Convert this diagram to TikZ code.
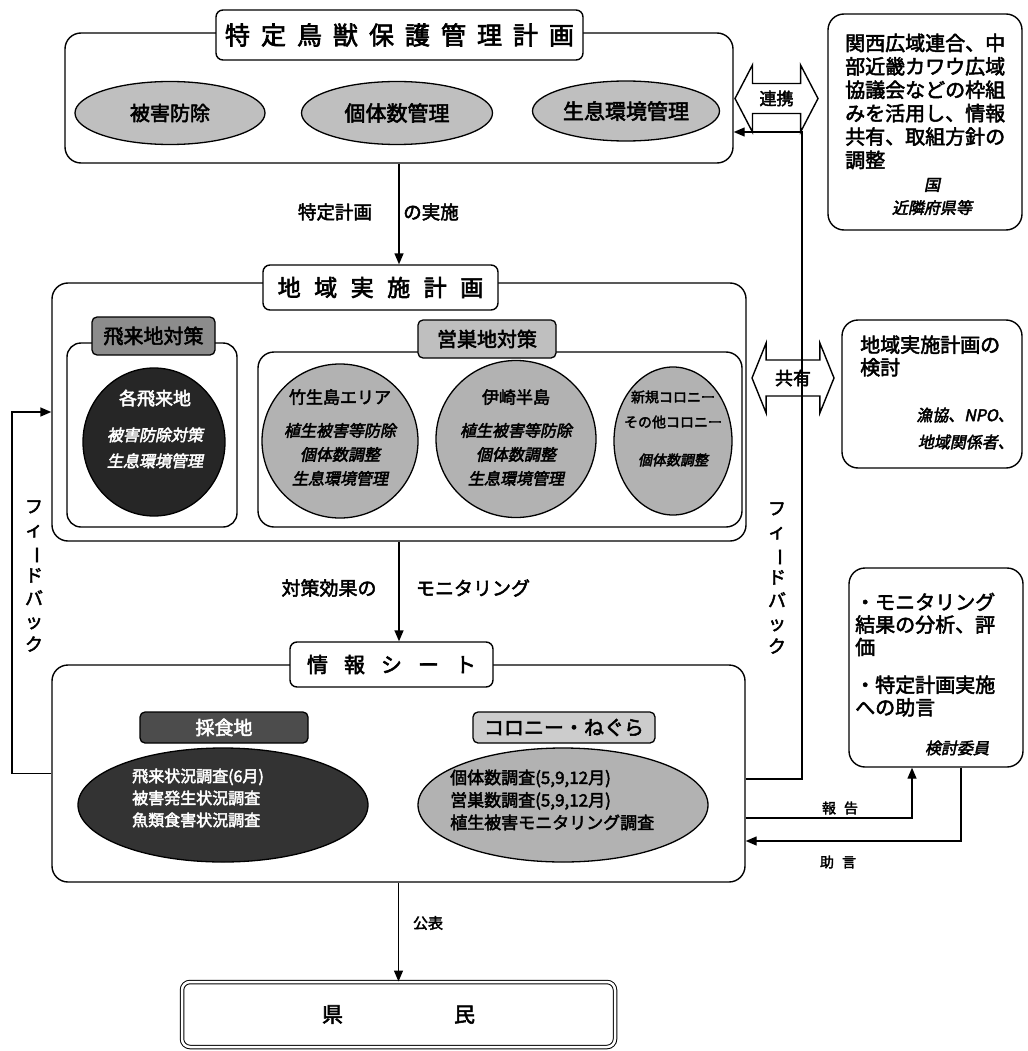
\documentclass[tikz,border=0pt]{standalone}
\usepackage{fontspec}
\usepackage{graphicx}
\setmainfont{Noto Sans CJK JP}
\newfontfamily\jpb[FakeBold=2.6]{Noto Sans CJK JP}
\newfontfamily\jpbi[FakeBold=2.8,FakeSlant=0.2]{Noto Sans CJK JP}
\usetikzlibrary{shapes.geometric,shapes.arrows,arrows.meta}
\newcommand\fsz[2]{\fontsize{#1}{#2}\selectfont}
\newcommand\vbar{\rotatebox[origin=c]{-90}{ー}}
\newcommand\gapA{\hspace{11pt}}
\newcommand\gapB{\hspace{13.5pt}}
\newcommand\gapC{\hspace{16pt}}
\begin{document}
\begin{tikzpicture}[x=1pt,y=-1pt,
  frame/.style={draw, line width=1.4pt, rounded corners=16pt, inner sep=0pt},
  tbox/.style={draw, fill=white, line width=1.4pt, rounded corners=7pt, inner sep=0pt},
  hdr/.style={draw, line width=1.3pt, rounded corners=5pt, inner sep=0pt},
  oval/.style={ellipse, draw, line width=1.3pt, inner sep=0pt},
  arr/.style={line width=1.4pt, -{Triangle[length=11pt,width=9pt]}},
  lbl/.style={inner sep=0pt},
  dbl/.style={double arrow, draw, line width=1.4pt},
  vtxt/.style={inner sep=0pt, align=center, font=\jpb\fsz{18}{23}},
]
\useasboundingbox (0,0) rectangle (1027,1051);

% ---------- top: plan ----------
\node[frame, minimum width=668pt, minimum height=130pt] (plan) at (399,98) {};
\node[tbox, minimum width=367pt, minimum height=50pt, font=\jpb\fsz{25}{25}] (plantitle) at (399.5,35)
  {特\gapA 定\gapA 鳥\gapA 獣\gapA 保\gapA 護\gapA 管\gapA 理\gapA 計\gapA 画};
\node[oval, fill=black!25, minimum width=190pt, minimum height=63pt, font=\jpb\fsz{20}{20}] (e1) at (170,113) {被害防除};
\node[oval, fill=black!25, minimum width=191pt, minimum height=63pt, font=\jpb\fsz{21}{21}] (e2) at (397,113) {個体数管理};
\node[oval, fill=black!25, minimum width=187pt, minimum height=60pt, font=\jpb\fsz{21}{21}] (e3) at (626,111) {生息環境管理};

% ---------- right top box ----------
\node[frame, minimum width=194pt, minimum height=216pt] (kansai) at (925,122) {};
\node[lbl, anchor=west, align=left, font=\jpb\fsz{20}{23.4}] (kansaitxt) at (845,101.5)
  {関西広域連合、中\\部近畿カワウ広域\\協議会などの枠組\\みを活用し、情報\\共有、取組方針の\\調整};
\node[lbl, align=center, font=\jpbi\fsz{16}{23}] (kuni) at (932,196.5) {国\\近隣府県等};

% ---------- middle: regional plan ----------
\node[frame, minimum width=694pt, minimum height=258pt] (mid) at (399,412) {};
\node[tbox, minimum width=235pt, minimum height=45pt, font=\jpb\fsz{23}{23}] (midtitle) at (380.5,287.5)
  {地\gapB 域\gapB 実\gapB 施\gapB 計\gapB 画};
\draw[arr] (plan.south) -- (plan.south |- midtitle.north);
\node[lbl, font=\jpb\fsz{18.5}{18.5}] (lab1) at (335,212) {特定計画};
\node[lbl, font=\jpb\fsz{18.5}{18.5}] (lab2) at (431,212) {の実施};

% left inner
\node[frame, rounded corners=14pt, minimum width=170pt, minimum height=184pt] (hirai) at (152,435) {};
\node[hdr, fill=black!45, minimum width=123pt, minimum height=38pt, font=\jpb\fsz{20}{20}] (hiraihdr) at (153.5,336) {飛来地対策};
\node[oval, fill=black!85, minimum width=142pt, minimum height=148pt] (hc) at (154,442) {};
\node[lbl, align=center, text=white, font=\jpbi\fsz{16}{26}] (hctxt) at (155,429)
  {{\jpb\fsz{18}{26}各飛来地}\\[10pt]被害防除対策\\生息環境管理};

% right inner
\node[frame, rounded corners=16pt, minimum width=484pt, minimum height=175pt] (eisou) at (500,439.5) {};
\node[hdr, fill=black!25, minimum width=138pt, minimum height=38pt, font=\jpb\fsz{20}{20}] (eisouhdr) at (487,339) {営巣地対策};
\node[oval, fill=black!30, minimum width=156pt, minimum height=154pt] (c1) at (340,441) {};
\node[lbl, align=center, font=\jpbi\fsz{16}{24}] (c1t) at (340,437.5)
  {{\jpb\fsz{17}{24}竹生島エリア}\\[9pt]植生被害等防除\\個体数調整\\生息環境管理};
\node[oval, fill=black!30, minimum width=160pt, minimum height=157pt] (c2) at (516,439) {};
\node[lbl, align=center, font=\jpbi\fsz{16}{24}] (c2t) at (516,437.5)
  {{\jpb\fsz{17}{24}伊崎半島}\\[9pt]植生被害等防除\\個体数調整\\生息環境管理};
\node[oval, fill=black!30, minimum width=118pt, minimum height=148pt] (c3) at (673,441) {};
\node[lbl, align=center, font=\jpb\fsz{14}{25}] (c3t) at (673,428.5)
  {新規コロニー\\その他コロニー\\[13pt]{\jpbi 個体数調整}};

% ---------- info sheet ----------
\node[frame, minimum width=693pt, minimum height=217pt] (info) at (398.5,773.5) {};
\node[tbox, minimum width=203pt, minimum height=45pt, font=\jpb\fsz{21}{21}] (infotitle) at (391.5,664.5)
  {情\gapC 報\gapC シ\gapC ー\gapC ト};
\draw[arr] (mid.south) -- (mid.south |- infotitle.north);
\node[lbl, font=\jpb\fsz{19}{19}] (lab3) at (329,588) {対策効果の};
\node[lbl, font=\jpb\fsz{19}{19}] (lab4) at (473,588) {モニタリング};

\node[oval, fill=black!80, minimum width=290pt, minimum height=114pt] (saishoku) at (223,805) {};
\node[hdr, fill=black!70, minimum width=168pt, minimum height=31pt, text=white, font=\jpb\fsz{19}{19}] (saihdr) at (224,727.5) {採食地};
\node[lbl, anchor=west, align=left, text=white, font=\jpb\fsz{16}{22}] (saitxt) at (132,798)
  {飛来状況調査(6月)\\被害発生状況調査\\魚類食害状況調査};
\node[oval, fill=black!30, minimum width=290pt, minimum height=114pt] (colony) at (563,805) {};
\node[hdr, fill=black!20, minimum width=182pt, minimum height=31pt, font=\jpb\fsz{20}{20}] (colhdr) at (564,727.5) {コロニー・ねぐら};
\node[lbl, anchor=west, align=left, font=\jpb\fsz{17}{22.5}] (coltxt) at (450,800)
  {個体数調査(5,9,12月)\\営巣数調査(5,9,12月)\\植生被害モニタリング調査};

% ---------- right side boxes ----------
\node[frame, minimum width=180pt, minimum height=148pt] (kento) at (932,394) {};
\node[lbl, anchor=west, align=left, font=\jpb\fsz{20}{22.5}] (kentotxt) at (860,356) {地域実施計画の\\検討};
\node[lbl, anchor=east, align=right, font=\jpbi\fsz{16}{27}] (kentosub) at (1014,428.5) {漁協、NPO、\\地域関係者、};

\node[frame, minimum width=174pt, minimum height=199pt] (iinkai) at (936,667.5) {};
\node[lbl, anchor=west, align=left, font=\jpb\fsz{20}{22.5}] (iin1) at (855,624.5) {・モニタリング\\結果の分析、評\\価};
\node[lbl, anchor=west, align=left, font=\jpb\fsz{20}{22.5}] (iin2) at (855,696) {・特定計画実施\\への助言};
\node[lbl, font=\jpbi\fsz{16}{16}] (iin3) at (957,748) {検討委員};

% ---------- feedback connectors ----------
\coordinate (fbL) at (12,412);
\draw[arr] (info.west) -| (fbL) -- (fbL -| mid.west);
\node[vtxt] (fbltxt) at (34,576) {フ\\ィ\\\vbar\\ド\\バ\\ッ\\ク};

\coordinate (fbR) at (802,779);
\coordinate (fbRt) at (802,132);
\draw[arr] (info.east |- fbR) -- (fbR) -- (fbRt) -- (fbRt -| plan.east);
\node[vtxt] (fbrtxt) at (777,578) {フ\\ィ\\\vbar\\ド\\バ\\ッ\\ク};

\node[dbl, minimum height=83pt, minimum width=67pt, double arrow head extend=18pt, double arrow tip angle=125,
  inner xsep=2pt, inner ysep=6pt, font=\jpb\fsz{17}{17}] (renkei) at (776.5,98.5) {連携};
\node[dbl, minimum height=82pt, minimum width=70pt, double arrow head extend=17pt, double arrow tip angle=136,
  inner xsep=2pt, inner ysep=9pt, font=\jpb\fsz{18}{18}] (kyoyu) at (793,378) {共有};

% report / advice
\coordinate (hk) at (912,818);
\draw[arr] (info.east |- hk) -- (hk) -- (hk |- iinkai.south);
\node[lbl, font=\jpb\fsz{14}{14}] (hktxt) at (840,808) {報\hspace{8pt}告};
\coordinate (jg) at (961,841);
\draw[arr] (jg |- iinkai.south) -- (jg) -- (jg -| info.east);
\node[lbl, font=\jpb\fsz{14}{14}] (jgtxt) at (838,862) {助\hspace{8pt}言};

% ---------- citizens ----------
\node[draw, double, double distance=2.5pt, line width=1pt, rounded corners=8pt, minimum width=433pt, minimum height=65pt,
  inner sep=0pt, font=\jpb\fsz{21}{21}] (kenmin) at (398.5,1014.5) {県\hspace{111pt}民};
\draw[arr] (info.south) -- (kenmin.north);
\node[lbl, font=\jpb\fsz{15}{15}] (kohyo) at (428,923) {公表};
\end{tikzpicture}
\end{document}
